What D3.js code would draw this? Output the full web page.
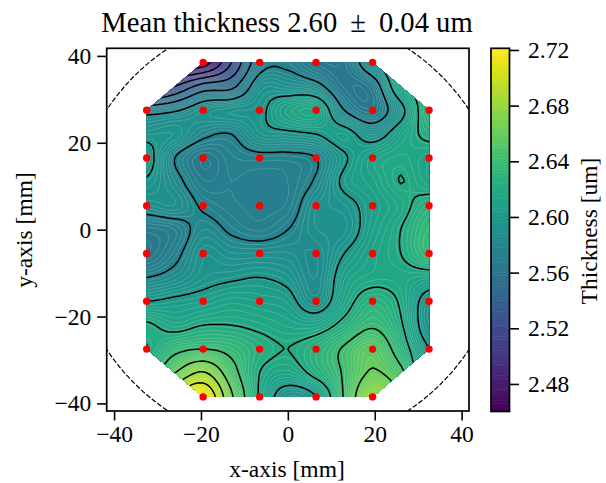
<!DOCTYPE html>
<html>
<head>
<meta charset="utf-8">
<title>Mean thickness</title>
<script src="https://cdn.jsdelivr.net/npm/d3@7"></script>
<style>
  html, body { margin: 0; background: #fff; }
  svg { display: block; }
  text { font-family: "Liberation Serif", serif; fill: #000; }
  .axis path, .axis line { stroke: #000; stroke-width: 1.6; }
  .axis text { font-family: "Liberation Serif", serif; font-size: 23.5px; }
</style>
</head>
<body>
<svg width="606" height="483"></svg>
<script>
// measurement sites (red dots), corners of the 6x8 lattice are not measured
var siteX = [-32.5, -19.5, -6.5, 6.5, 19.5, 32.5];
var siteY = [38.5, 27.5, 16.5, 5.5, -5.5, -16.5, -27.5, -38.5];

// thickness on a half lattice, top row first
var nodeX = [-32.5, -26, -19.5, -13, -6.5, 0, 6.5, 13, 19.5, 26, 32.5];
var nodeY = [38.5, 33, 27.5, 22, 16.5, 11, 5.5, 0, -5.5, -11, -16.5, -22, -27.5, -33, -38.5];
var thickness = [
  [2.500, 2.470, 2.470, 2.520, 2.572, 2.577, 2.566, 2.566, 2.595, 2.620, 2.628],
  [2.500, 2.520, 2.548, 2.555, 2.590, 2.590, 2.585, 2.566, 2.570, 2.615, 2.628],
  [2.572, 2.578, 2.590, 2.595, 2.597, 2.612, 2.615, 2.580, 2.568, 2.595, 2.632],
  [2.595, 2.595, 2.583, 2.580, 2.595, 2.597, 2.600, 2.606, 2.592, 2.610, 2.624],
  [2.605, 2.580, 2.567, 2.574, 2.576, 2.576, 2.580, 2.598, 2.612, 2.617, 2.612],
  [2.598, 2.585, 2.570, 2.572, 2.570, 2.572, 2.582, 2.603, 2.610, 2.6202, 2.612],
  [2.587, 2.590, 2.578, 2.573, 2.571, 2.573, 2.590, 2.595, 2.606, 2.615, 2.628],
  [2.568, 2.572, 2.585, 2.578, 2.574, 2.580, 2.590, 2.592, 2.608, 2.620, 2.635],
  [2.564, 2.576, 2.592, 2.588, 2.588, 2.588, 2.585, 2.600, 2.612, 2.620, 2.635],
  [2.580, 2.586, 2.595, 2.598, 2.600, 2.596, 2.585, 2.608, 2.615, 2.615, 2.612],
  [2.600, 2.603, 2.606, 2.610, 2.608, 2.605, 2.590, 2.613, 2.628, 2.618, 2.592],
  [2.622, 2.615, 2.620, 2.620, 2.617, 2.613, 2.612, 2.625, 2.638, 2.622, 2.590],
  [2.620, 2.635, 2.640, 2.635, 2.625, 2.620, 2.628, 2.642, 2.655, 2.630, 2.600],
  [2.630, 2.660, 2.682, 2.648, 2.620, 2.612, 2.625, 2.642, 2.662, 2.645, 2.600],
  [2.660, 2.700, 2.720, 2.663, 2.618, 2.590, 2.600, 2.642, 2.680, 2.660, 2.620]
];

var xTicks = [-40, -20, 0, 20, 40];
var yTicks = [-40, -20, 0, 20, 40];
var cbarTicks = [2.48, 2.52, 2.56, 2.60, 2.64, 2.68, 2.72];
var blackLevels = [2.48, 2.50, 2.52, 2.54, 2.56, 2.58, 2.60, 2.62, 2.64, 2.66, 2.68, 2.70];
var waferRadius = 50;
var vMin = 2.4602, vMax = 2.7212;

var pic = d3.select("svg");
var left = 106.7, right = 469, top_ = 48.3, bottom = 411;

var x = d3.scaleLinear().domain([-41.7, 41.7]).range([left, right]);
var y = d3.scaleLinear().domain([-41.75, 41.75]).range([bottom, top_]);
var c = d3.scaleLinear().domain([vMin, vMax]).range([411.5, 48.3]);
var color = d3.scaleSequential(d3.interpolateViridis).domain([vMin, vMax]);

// all sites except the four lattice corners
var sites = [];
siteY.forEach(function(sy) {
  siteX.forEach(function(sx) {
    if (Math.abs(sy) == 38.5 && Math.abs(sx) == 32.5) return;
    sites.push([sx, sy]);
  });
});
var hull = d3.polygonHull(sites);

var defs = pic.append("defs");
defs.append("clipPath").attr("id", "hull").append("path")
  .attr("d", "M" + hull.map(function(p) { return [x(p[0]), y(p[1])]; }).join("L") + "Z");
defs.append("clipPath").attr("id", "frame").append("rect")
  .attr("x", left).attr("y", top_).attr("width", right - left).attr("height", bottom - top_);

// catmull-rom through the read values, only so the contour lines come out smooth
var cr = function(a, b, c2, d, t) {
  return b + 0.5 * t * (c2 - a + t * (2 * a - 5 * b + 4 * c2 - d + t * (3 * (b - c2) + d - a)));
};
var at = function(i, j) {
  i = Math.max(0, Math.min(nodeX.length - 1, i));
  j = Math.max(0, Math.min(nodeY.length - 1, j));
  return thickness[j][i];
};
var surface = function(u, v) {
  u = Math.max(0, Math.min(nodeX.length - 1, u));
  v = Math.max(0, Math.min(nodeY.length - 1, v));
  var i = Math.min(Math.floor(u), nodeX.length - 2), j = Math.min(Math.floor(v), nodeY.length - 2);
  var rows = [-1, 0, 1, 2].map(function(dj) {
    return cr(at(i - 1, j + dj), at(i, j + dj), at(i + 1, j + dj), at(i + 2, j + dj), u - i);
  });
  return cr(rows[0], rows[1], rows[2], rows[3], v - j);
};

var sub = 8, pad = 2;
var nx = (nodeX.length - 1) * sub + 1 + 2 * pad;
var ny = (nodeY.length - 1) * sub + 1 + 2 * pad;
var field = new Float64Array(nx * ny);
for (var j = 0; j < ny; j++) {
  for (var i = 0; i < nx; i++) {
    field[j * nx + i] = surface((i - pad) / sub, (j - pad) / sub);
  }
}

var stepX = (nodeX[1] - nodeX[0]) / sub, stepY = (nodeY[1] - nodeY[0]) / sub;
var toScreen = d3.geoTransform({
  point: function(px, py) {
    this.stream.point(x(nodeX[0] + (px - 0.5 - pad) * stepX), y(nodeY[0] + (py - 0.5 - pad) * stepY));
  }
});
var path = d3.geoPath(toScreen);
var contourAt = function(levels) {
  return d3.contours().size([nx, ny]).thresholds(levels)(field);
};

var map = pic.append("g").attr("clip-path", "url(#hull)");

// filled bands, then thin white lines, then the black ones
var fillLevels = d3.range(0, 131).map(function(k) { return vMin - 0.002 + k * 0.002; });
map.append("g").selectAll("path").data(contourAt(fillLevels)).join("path")
  .attr("d", path)
  .attr("fill", function(d) { return color(d.value + 0.001); });

var whiteLevels = d3.range(0, 100).map(function(k) { return vMin + k * 0.0026; });
map.append("g").selectAll("path").data(contourAt(whiteLevels)).join("path")
  .attr("d", path)
  .attr("fill", "none").attr("stroke", "#fff").attr("stroke-opacity", 0.35).attr("stroke-width", 0.5);

map.append("g").selectAll("path").data(contourAt(blackLevels)).join("path")
  .attr("d", path)
  .attr("fill", "none").attr("stroke", "#000").attr("stroke-width", 1.5);

// wafer outline
pic.append("g").attr("clip-path", "url(#frame)").append("circle")
  .attr("cx", x(0)).attr("cy", y(0)).attr("r", x(waferRadius) - x(0))
  .attr("fill", "none").attr("stroke", "#000").attr("stroke-width", 1.2).attr("stroke-dasharray", "5 2");

// sites
pic.append("g").selectAll("circle").data(sites).join("circle")
  .attr("cx", function(d) { return x(d[0]); })
  .attr("cy", function(d) { return y(d[1]); })
  .attr("r", 3.7)
  .attr("fill", "#ff0000");

// frame and axes
pic.append("rect").attr("x", left).attr("y", top_).attr("width", right - left).attr("height", bottom - top_)
  .attr("fill", "none").attr("stroke", "#000").attr("stroke-width", 1.7);

pic.append("g").attr("class", "axis").attr("transform", "translate(0," + bottom + ")")
  .call(d3.axisBottom(x).tickValues(xTicks).tickSize(9.5).tickPadding(5))
  .select(".domain").remove();
pic.append("g").attr("class", "axis").attr("transform", "translate(" + left + ",0)")
  .call(d3.axisLeft(y).tickValues(yTicks).tickSize(9.5).tickPadding(6))
  .select(".domain").remove();

pic.append("text").attr("x", 287).attr("y", 477).attr("text-anchor", "middle")
  .style("font-size", "23.5px").text("x-axis [mm]");
pic.append("text").attr("transform", "translate(32,230) rotate(-90)").attr("text-anchor", "middle")
  .style("font-size", "23.5px").text("y-axis [mm]");

var title = pic.append("text").attr("x", 287).attr("y", 32).attr("text-anchor", "middle")
  .style("font-size", "28.6px");
title.append("tspan").text("Mean thickness 2.60");
title.append("tspan").attr("dx", 13).text("\u00b1");
title.append("tspan").attr("dx", 13).text("0.04 um");

// colorbar
var cbar = pic.append("g");
var cbarLeft = 491, cbarRight = 509.5;
var bands = d3.range(0, 131).map(function(k) { return vMin + k * 0.002; });
cbar.selectAll("rect").data(bands).join("rect")
  .attr("x", cbarLeft).attr("width", cbarRight - cbarLeft)
  .attr("y", function(d) { return c(Math.min(d + 0.002, vMax)); })
  .attr("height", function(d) { return c(d) - c(Math.min(d + 0.002, vMax)) + 0.5; })
  .attr("fill", function(d) { return color(d + 0.001); });
pic.append("rect").attr("x", cbarLeft).attr("y", c(vMax)).attr("width", cbarRight - cbarLeft).attr("height", c(vMin) - c(vMax))
  .attr("fill", "none").attr("stroke", "#000").attr("stroke-width", 1.7);
pic.append("g").attr("class", "axis").attr("transform", "translate(" + cbarRight + ",0)")
  .call(d3.axisRight(c).tickValues(cbarTicks).tickFormat(d3.format(".2f")).tickSize(9.5).tickPadding(9))
  .select(".domain").remove();
pic.append("text").attr("transform", "translate(597,231) rotate(-90)").attr("text-anchor", "middle")
  .style("font-size", "23.5px").text("Thickness [um]");
</script>
</body>
</html>
